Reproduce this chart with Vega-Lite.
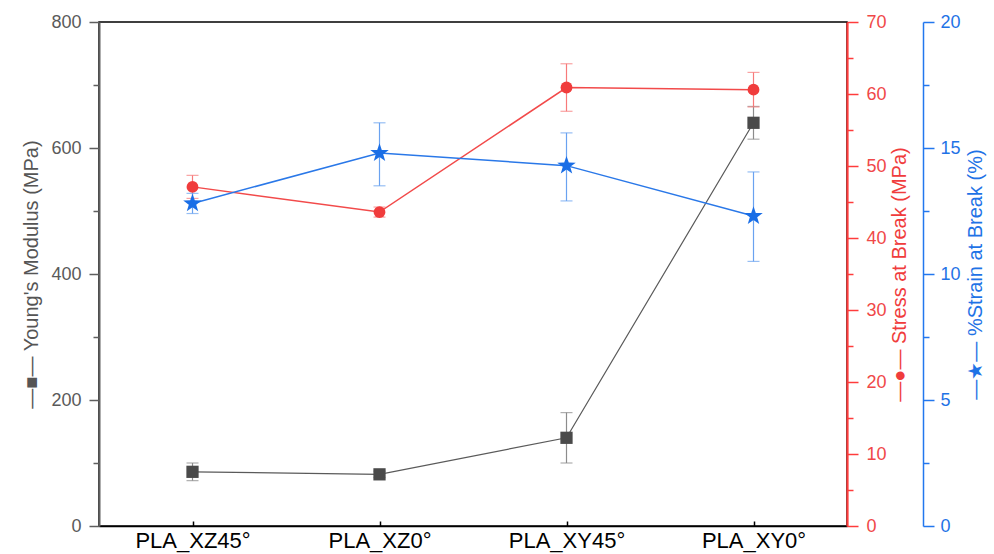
{
  "$schema": "https://vega.github.io/schema/vega-lite/v6.json",
  "width": 748,
  "height": 504,
  "autosize": "none",
  "padding": {"left": 99, "top": 22, "right": 147, "bottom": 28},
  "background": "white",
  "config": {
    "view": {"stroke": "#000000", "strokeWidth": 1.5},
    "font": "Liberation Sans",
    "axis": {"labelFont": "Liberation Sans", "titleFont": "Liberation Sans", "titleFontWeight": "normal", "grid": false, "labelFlush": false, "labelOverlap": false, "labelBound": false}
  },
  "datasets": {
    "ym": [
      {"cat": "PLA_XZ45°", "value": 86, "lo": 72, "hi": 100},
      {"cat": "PLA_XZ0°", "value": 82, "lo": 77, "hi": 87},
      {"cat": "PLA_XY45°", "value": 140, "lo": 100, "hi": 180},
      {"cat": "PLA_XY0°", "value": 640, "lo": 614, "hi": 666}
    ],
    "stress": [
      {"cat": "PLA_XZ45°", "value": 47.1, "lo": 45.5, "hi": 48.7},
      {"cat": "PLA_XZ0°", "value": 43.6, "lo": 42.9, "hi": 44.3},
      {"cat": "PLA_XY45°", "value": 60.9, "lo": 57.6, "hi": 64.2},
      {"cat": "PLA_XY0°", "value": 60.6, "lo": 58.2, "hi": 63.0}
    ],
    "strain": [
      {"cat": "PLA_XZ45°", "value": 12.8, "lo": 12.4, "hi": 13.2},
      {"cat": "PLA_XZ0°", "value": 14.8, "lo": 13.5, "hi": 16.0},
      {"cat": "PLA_XY45°", "value": 14.3, "lo": 12.9, "hi": 15.6},
      {"cat": "PLA_XY0°", "value": 12.3, "lo": 10.5, "hi": 14.05}
    ]
  },
  "encoding": {
    "x": {"field": "cat", "type": "nominal", "sort": null, "scale": {"type": "point", "padding": 0.5},
      "axis": {"orient": "bottom", "title": null, "labelAngle": 0, "labelFontSize": 22, "labelColor": "#000000", "domainColor": "#000000", "domainWidth": 1.5, "tickColor": "#000000", "tickWidth": 1.5, "tickSize": -5, "labelPadding": 9}}
  },
  "layer": [
    {
      "data": {"name": "ym"},
      "layer": [
        {"mark": {"type": "errorbar", "ticks": true, "size": 12, "thickness": 1.2, "color": "#8c8c8c"},
          "encoding": {
            "y": {"field": "lo", "type": "quantitative", "scale": {"domain": [0, 800], "nice": false},
              "axis": {"orient": "left", "title": "—■— Young's Modulus (MPa)",
                "values": [0, 100, 200, 300, 400, 500, 600, 700, 800],
                "labelExpr": "datum.value % 200 === 0 ? datum.label : ''",
                "labelFontSize": 18, "labelColor": "#5a5a5a", "labelPadding": 8,
                "domainColor": "#5f5f5f", "domainWidth": 2, "tickColor": "#5f5f5f", "tickWidth": 1.5,
                "tickSize": {"condition": {"test": "datum.value % 200 !== 0", "value": 6}, "value": 10},
                "titleFontSize": 20, "titleColor": "#555555", "titlePadding": 9}},
            "y2": {"field": "hi"}}},
        {"mark": {"type": "line", "color": "#5a5a5a", "strokeWidth": 1.2,
            "point": {"shape": "square", "filled": true, "size": 150, "color": "#4a4a4a", "opacity": 1}},
          "encoding": {
            "y": {"field": "value", "type": "quantitative", "scale": {"domain": [0, 800], "nice": false},
              "axis": {"orient": "left", "title": "—■— Young's Modulus (MPa)",
                "values": [0, 100, 200, 300, 400, 500, 600, 700, 800],
                "labelExpr": "datum.value % 200 === 0 ? datum.label : ''",
                "labelFontSize": 18, "labelColor": "#5a5a5a", "labelPadding": 8,
                "domainColor": "#5f5f5f", "domainWidth": 2, "tickColor": "#5f5f5f", "tickWidth": 1.5,
                "tickSize": {"condition": {"test": "datum.value % 200 !== 0", "value": 6}, "value": 10},
                "titleFontSize": 20, "titleColor": "#555555", "titlePadding": 9}}}}
      ]
    },
    {
      "data": {"name": "stress"},
      "layer": [
        {"mark": {"type": "errorbar", "ticks": true, "size": 12, "thickness": 1.2, "color": "#f77a7a"},
          "encoding": {
            "y": {"field": "lo", "type": "quantitative", "scale": {"domain": [0, 70], "nice": false},
              "axis": {"orient": "right", "title": "—●— Stress at Break (MPa)", "titleAngle": 270, "titleBaseline": "top",
                "values": [0, 5, 10, 15, 20, 25, 30, 35, 40, 45, 50, 55, 60, 65, 70],
                "labelExpr": "datum.value % 10 === 0 ? datum.label : ''",
                "labelFontSize": 18, "labelColor": "#f04848", "labelPadding": 8,
                "domainColor": "#ff3c3c", "domainWidth": 2.2, "tickColor": "#ff3c3c", "tickWidth": 1.5,
                "tickSize": {"condition": {"test": "datum.value % 10 !== 0", "value": 6}, "value": 11},
                "titleFontSize": 20, "titleColor": "#f03c3c", "titlePadding": 3}},
            "y2": {"field": "hi"}}},
        {"mark": {"type": "line", "color": "#f24a4a", "strokeWidth": 1.5,
            "point": {"shape": "circle", "filled": true, "size": 140, "color": "#f03c3c", "opacity": 1}},
          "encoding": {
            "y": {"field": "value", "type": "quantitative", "scale": {"domain": [0, 70], "nice": false},
              "axis": {"orient": "right", "title": "—●— Stress at Break (MPa)", "titleAngle": 270, "titleBaseline": "top",
                "values": [0, 5, 10, 15, 20, 25, 30, 35, 40, 45, 50, 55, 60, 65, 70],
                "labelExpr": "datum.value % 10 === 0 ? datum.label : ''",
                "labelFontSize": 18, "labelColor": "#f04848", "labelPadding": 8,
                "domainColor": "#ff3c3c", "domainWidth": 2.2, "tickColor": "#ff3c3c", "tickWidth": 1.5,
                "tickSize": {"condition": {"test": "datum.value % 10 !== 0", "value": 6}, "value": 11},
                "titleFontSize": 20, "titleColor": "#f03c3c", "titlePadding": 3}}}}
      ]
    },
    {
      "data": {"name": "strain"},
      "layer": [
        {"mark": {"type": "errorbar", "ticks": true, "size": 12, "thickness": 1.2, "color": "#6aa2f0"},
          "encoding": {
            "y": {"field": "lo", "type": "quantitative", "scale": {"domain": [0, 20], "nice": false},
              "axis": {"orient": "right", "offset": 76, "title": "—★— %Strain at Break (%)", "titleAngle": 270, "titleBaseline": "top",
                "values": [0, 2.5, 5, 7.5, 10, 12.5, 15, 17.5, 20],
                "labelExpr": "datum.value % 5 === 0 ? datum.label : ''",
                "labelFontSize": 18, "labelColor": "#1f73e6", "labelPadding": 6,
                "domainColor": "#2277ee", "domainWidth": 1.5, "tickColor": "#2277ee", "tickWidth": 1.5,
                "tickSize": {"condition": {"test": "datum.value % 5 !== 0", "value": 6}, "value": 11},
                "titleFontSize": 20, "titleColor": "#1f73e6", "titlePadding": 5}},
            "y2": {"field": "hi"}}},
        {"mark": {"type": "line", "color": "#2a78e8", "strokeWidth": 1.5,
            "point": {"shape": "M0,-1L0.235,-0.324L0.951,-0.309L0.38,0.124L0.588,0.809L0,0.4L-0.588,0.809L-0.38,0.124L-0.951,-0.309L-0.235,-0.324Z", "filled": true, "size": 380, "color": "#1a6ee6", "opacity": 1}},
          "encoding": {
            "y": {"field": "value", "type": "quantitative", "scale": {"domain": [0, 20], "nice": false},
              "axis": {"orient": "right", "offset": 76, "title": "—★— %Strain at Break (%)", "titleAngle": 270, "titleBaseline": "top",
                "values": [0, 2.5, 5, 7.5, 10, 12.5, 15, 17.5, 20],
                "labelExpr": "datum.value % 5 === 0 ? datum.label : ''",
                "labelFontSize": 18, "labelColor": "#1f73e6", "labelPadding": 6,
                "domainColor": "#2277ee", "domainWidth": 1.5, "tickColor": "#2277ee", "tickWidth": 1.5,
                "tickSize": {"condition": {"test": "datum.value % 5 !== 0", "value": 6}, "value": 11},
                "titleFontSize": 20, "titleColor": "#1f73e6", "titlePadding": 5}}}}
      ]
    }
  ],
  "resolve": {"scale": {"y": "independent"}}
}
